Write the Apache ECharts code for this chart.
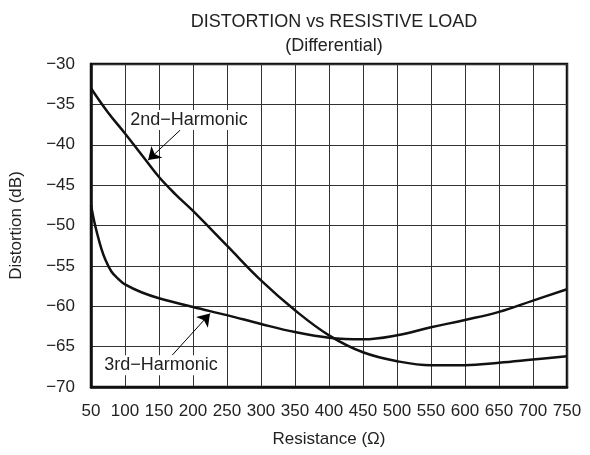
<!DOCTYPE html>
<html>
<head>
<meta charset="utf-8">
<script src="https://cdn.jsdelivr.net/npm/echarts@6/dist/echarts.min.js"></script>
<style>html,body{margin:0;padding:0;background:#fff}#c{width:590px;height:455px}</style>
</head>
<body>
<div id="c"></div>
<script>
var xTicks = [50,100,150,200,250,300,350,400,450,500,550,600,650,700,750];
var yTicks = [-70,-65,-60,-55,-50,-45,-40,-35,-30];

var secondX = [50, 75, 100, 125, 150, 175, 200, 250, 300, 350, 400, 450, 500, 550, 600, 650, 700, 750];
var secondY = [-33.0, -36.0, -38.6, -41.3, -44.0, -46.2, -48.2, -52.5, -56.8, -60.5, -63.6, -65.7, -66.8, -67.3, -67.3, -67.0, -66.6, -66.2];

var thirdX = [50, 55, 60, 65, 70, 80, 90, 100, 125, 150, 200, 250, 300, 350, 400, 450, 500, 550, 600, 650, 700, 750];
var thirdY = [-47.5, -49.6, -51.3, -52.8, -54.0, -55.7, -56.6, -57.3, -58.3, -59.0, -60.1, -61.1, -62.2, -63.2, -63.9, -64.1, -63.6, -62.6, -61.7, -60.7, -59.3, -57.9];

var labelNames = ['2nd\u2212Harmonic', '3rd\u2212Harmonic'];
var labelPos = [[194, -36.95], [153, -67.3]];
var arrowFrom = [[181, -38.2], [169, -66.1]];
var arrowTo = [[134, -41.9], [225, -60.9]];

function pairs(xs, ys){ return xs.map(function(x,i){ return [x, ys[i]]; }); }

var font = 'Liberation Sans, Arial, Helvetica, sans-serif';
var chart = echarts.init(document.getElementById('c'));

function mk(i){
  return {
    markLine: {
      silent: true, symbol: ['none','arrow'], symbolSize: 12,
      lineStyle: {color:'#000', width:1, type:'solid'}, label:{show:false},
      data: [[{coord: arrowFrom[i]}, {coord: arrowTo[i]}]]
    },
    markPoint: {
      silent: true, symbol: 'rect', symbolSize: 0,
      label: {show:true, formatter: labelNames[i], color:'#222', fontFamily: font, fontSize: 18,
        backgroundColor:'#fff', padding:[1,2], position:'inside'},
      data: [{coord: labelPos[i]}]
    }
  };
}

var s2 = Object.assign({type:'line', name:'2nd', data: pairs(secondX, secondY), smooth: 0.4, showSymbol:false,
  lineStyle:{color:'#111', width:2.5}, z: 5}, mk(0));
var s3 = Object.assign({type:'line', name:'3rd', data: pairs(thirdX, thirdY), smooth: 0.4, showSymbol:false,
  lineStyle:{color:'#111', width:2.5}, z: 5}, mk(1));

chart.setOption({
  animation: false,
  title: {
    text: 'DISTORTION vs RESISTIVE LOAD', subtext: '(Differential)',
    left: 329, textAlign: 'center', top: 8, itemGap: 6,
    textStyle: {fontFamily: font, fontSize: 18, fontWeight: 'normal', color: '#222'},
    subtextStyle: {fontFamily: font, fontSize: 18, color: '#222'}
  },
  grid: {left: 91, right: 23, top: 64, bottom: 68, show: true, borderColor: '#111', borderWidth: 2.5, backgroundColor: 'transparent'},
  xAxis: {
    type: 'value', min: xTicks[0], max: xTicks[xTicks.length-1], interval: 50,
    name: 'Resistance (\u03A9)', nameLocation: 'middle', nameGap: 44,
    nameTextStyle: {fontFamily: font, fontSize: 17, color: '#222'},
    axisLine: {show: true, lineStyle: {color: '#111', width: 2.5}},
    axisTick: {show: false},
    axisLabel: {fontFamily: font, fontSize: 17, color: '#222', margin: 16},
    splitLine: {show: true, lineStyle: {color: '#333', width: 1}}
  },
  yAxis: {
    type: 'value', min: yTicks[0], max: yTicks[yTicks.length-1], interval: 5,
    name: 'Distortion (dB)', nameLocation: 'middle', nameGap: 66,
    nameTextStyle: {fontFamily: font, fontSize: 17, color: '#222'},
    axisLine: {show: true, lineStyle: {color: '#111', width: 2.5}},
    axisTick: {show: false},
    axisLabel: {fontFamily: font, fontSize: 17, color: '#222', margin: 16,
      formatter: function(v){ return String(v).replace('-', '\u2212'); }},
    splitLine: {show: true, lineStyle: {color: '#333', width: 1}}
  },
  series: [s2, s3]
});
</script>
</body>
</html>
